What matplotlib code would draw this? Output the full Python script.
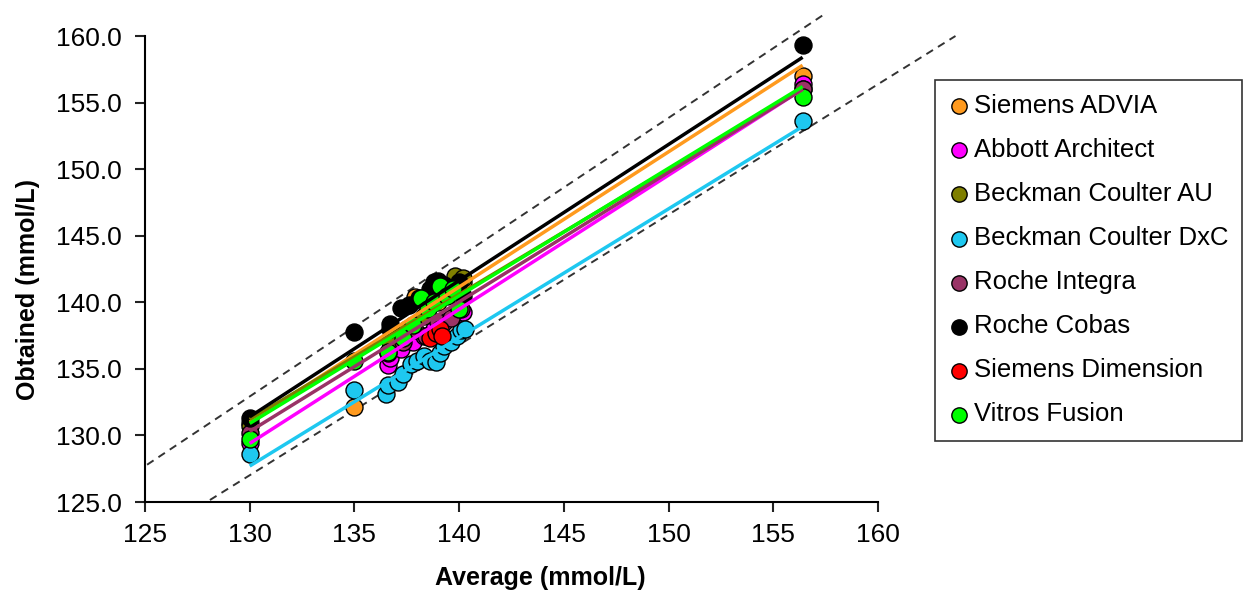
import numpy as np
import matplotlib
matplotlib.use("Agg")
import matplotlib.pyplot as plt

plt.rcParams['font.family'] = ['Liberation Sans', 'DejaVu Sans']

# analyzer names and colours
names = ["Siemens ADVIA", "Abbott Architect", "Beckman Coulter AU", "Beckman Coulter DxC",
         "Roche Integra", "Roche Cobas", "Siemens Dimension", "Vitros Fusion"]
colors = ["#FF9A1E", "#FF00FF", "#7F7F00", "#1EC8F0", "#993366", "#000000", "#FF0000", "#00FF00"]

# average vs obtained values (mmol/L)
advia_x = [130.0, 135.0, 137.9, 138.3, 139.0, 139.7, 140.2, 156.4]
advia_y = [130.9, 132.1, 140.4, 140.2, 140.0, 141.0, 141.5, 157.0]
abbott_x = [130.0, 136.6, 136.7, 137.2, 137.8, 138.3, 138.8, 139.3, 139.8, 140.2, 156.4]
abbott_y = [129.4, 135.3, 135.8, 136.5, 137.0, 137.5, 138.0, 138.5, 139.0, 139.3, 156.4]
bc_au_x = [130.0, 136.7, 137.5, 138.3, 139.2, 139.8, 140.2, 156.4]
bc_au_y = [130.7, 137.0, 138.0, 139.0, 141.0, 142.0, 141.8, 156.0]
bc_dxc_x = [130.0, 135.0, 136.5, 136.6, 137.1, 137.3, 137.7, 138.0, 138.3, 138.6, 138.9,
            139.1, 139.3, 139.6, 139.9, 140.1, 140.3, 156.4]
bc_dxc_y = [128.6, 133.4, 133.1, 133.8, 134.0, 134.6, 135.4, 135.6, 136.0, 135.6, 135.5,
            136.2, 136.7, 137.0, 137.5, 137.9, 138.0, 153.6]
integra_x = [130.0, 136.6, 137.3, 137.9, 138.4, 139.0, 139.6, 140.1, 156.4]
integra_y = [130.2, 136.2, 137.0, 137.9, 137.5, 138.5, 138.8, 139.5, 156.0]
cobas_x = [130.0, 135.0, 136.7, 136.7, 137.2, 137.6, 138.1, 138.6, 138.8, 139.0, 139.3,
           139.6, 140.0, 140.2, 156.4]
cobas_y = [131.3, 137.8, 138.4, 138.0, 139.6, 139.8, 140.3, 141.0, 141.5, 141.6, 141.3,
           141.0, 141.5, 140.5, 159.3]
dimension_x = [138.6, 138.9, 139.1, 139.2]
dimension_y = [137.3, 137.7, 138.0, 137.5]
vitros_x = [130.0, 135.0, 136.6, 137.3, 137.8, 138.2, 138.5, 138.8, 139.1, 139.4, 139.7,
            140.0, 156.4]
vitros_y = [129.7, 135.6, 136.3, 137.3, 138.3, 140.3, 139.5, 140.0, 141.2, 140.5, 141.0,
            139.5, 155.4]

series_x = [advia_x, abbott_x, bc_au_x, bc_dxc_x, integra_x, cobas_x, dimension_x, vitros_x]
series_y = [advia_y, abbott_y, bc_au_y, bc_dxc_y, integra_y, cobas_y, dimension_y, vitros_y]

# trend lines as read: value at x=130 and x=156.4 (None = no visible line)
fit_x = [130.0, 156.4]
fit_lo = [131.0, 129.4, 131.2, 127.7, 130.3, 131.4, None, 130.9]
fit_hi = [157.8, 156.0, 156.0, 153.2, 156.0, 158.4, None, 156.2]

# acceptance limit lines (dashed), endpoints
upper_x = [125.1, 157.5]
upper_y = [127.8, 161.7]
lower_x = [128.1, 163.7]
lower_y = [125.15, 160.0]

fig = plt.figure(figsize=(12.47, 5.99), dpi=100)
ax = fig.add_axes([145/1247, 97/599, 733/1247, 466/599])

ax.plot(upper_x, upper_y, color="#333333", lw=1.4, dashes=(4, 3), clip_on=False, zorder=1)
ax.plot(lower_x, lower_y, color="#333333", lw=1.4, dashes=(4, 3), clip_on=False, zorder=1)

for i in range(len(names)):
    ax.scatter(series_x[i], series_y[i], s=150, color=colors[i], edgecolor="black",
               linewidth=1.0, zorder=3, label=names[i], clip_on=False)

for i in range(len(names)):
    if fit_lo[i] is None:
        continue
    ax.plot(fit_x, [fit_lo[i], fit_hi[i]], color=colors[i], lw=2.5, zorder=4,
            solid_capstyle="butt")

ax.set_xlim(125, 160)
ax.set_ylim(125, 160)
ax.set_xticks(np.arange(125, 161, 5))
ax.set_yticks(np.arange(125, 161, 5))
ax.set_yticklabels(["%.1f" % v for v in np.arange(125, 161, 5)])
ax.tick_params(labelsize=19, direction="out", length=7, width=1.5, color="#222222")
ax.tick_params(axis="y", pad=10)
ax.tick_params(axis="x", pad=8)
ax.spines["top"].set_visible(False)
ax.spines["right"].set_visible(False)
ax.spines["left"].set_linewidth(1.5)
ax.spines["bottom"].set_linewidth(1.5)
ax.set_xlabel("Average (mmol/L)", fontsize=18, fontweight="bold")
ax.set_ylabel("Obtained (mmol/L)", fontsize=18, fontweight="bold")
ax.xaxis.set_label_coords((540 - 145) / 733, -(578 - 502) / 466)
ax.yaxis.set_label_coords(-(145 - 28) / 733, (502 - 290) / 466)
ax.xaxis.label.set_va("center")
ax.yaxis.label.set_va("center")

leg = fig.legend(loc="upper left", bbox_to_anchor=(935/1247, 519/599), fontsize=18.5,
                 frameon=True, fancybox=False, edgecolor="black", handletextpad=0.15,
                 labelspacing=0.78, borderpad=0.55, handlelength=0.8, markerscale=0.9,
                 scatterpoints=1, borderaxespad=0)
leg.get_frame().set_linewidth(1.2)

fig.savefig("out.png", dpi=100)
